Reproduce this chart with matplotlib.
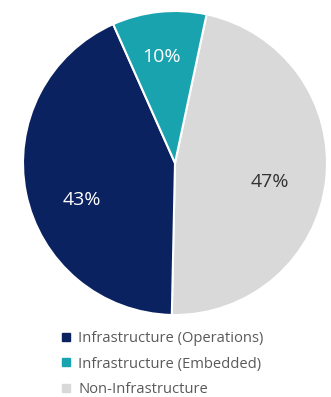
import matplotlib.pyplot as plt
from matplotlib.lines import Line2D

# Data
labels = ["Non-Infrastructure", "Infrastructure (Operations)", "Infrastructure (Embedded)"]
values = [47, 43, 10]
colors = ["#d9d9d9", "#0b2260", "#19a3ae"]
text_colors = ["#333333", "white", "white"]
# label placement in pie radius units
label_pos = [(0.625, -0.125), (-0.61, -0.243), (-0.086, 0.697)]
legend_order = [1, 2, 0]

plt.rcParams['font.family'] = ['Open Sans', 'DejaVu Sans']

fig = plt.figure(figsize=(3.31, 3.97), dpi=100)
W, H = 331, 397
cx, cy, r = 175, 163, 152
ax = fig.add_axes([(cx - r) / W, (H - cy - r) / H, 2 * r / W, 2 * r / H])

wedges, texts, autotexts = ax.pie(
    values, colors=colors, startangle=78, counterclock=False,
    autopct='%d%%', pctdistance=0.66,
    wedgeprops=dict(edgecolor='white', linewidth=1.5),
    textprops=dict(fontsize=14))
for t, c, p in zip(autotexts, text_colors, label_pos):
    t.set_color(c)
    t.set_position(p)
ax.set_xlim(-1, 1)
ax.set_ylim(-1, 1)
ax.set_aspect('equal')

handles = [Line2D([], [], marker='s', linestyle='none', markersize=5.5,
                  markerfacecolor=colors[i], markeredgecolor=colors[i])
           for i in legend_order]
fig.legend(handles, [labels[i] for i in legend_order],
           loc='upper left', bbox_to_anchor=(62 / W, 1 - 331 / H),
           frameon=False, fontsize=10.6, labelcolor='#595959',
           handlelength=0.6, handletextpad=0.5, labelspacing=0.72,
           borderpad=0, borderaxespad=0)

plt.savefig("out.png", dpi=100)
plt.close()
